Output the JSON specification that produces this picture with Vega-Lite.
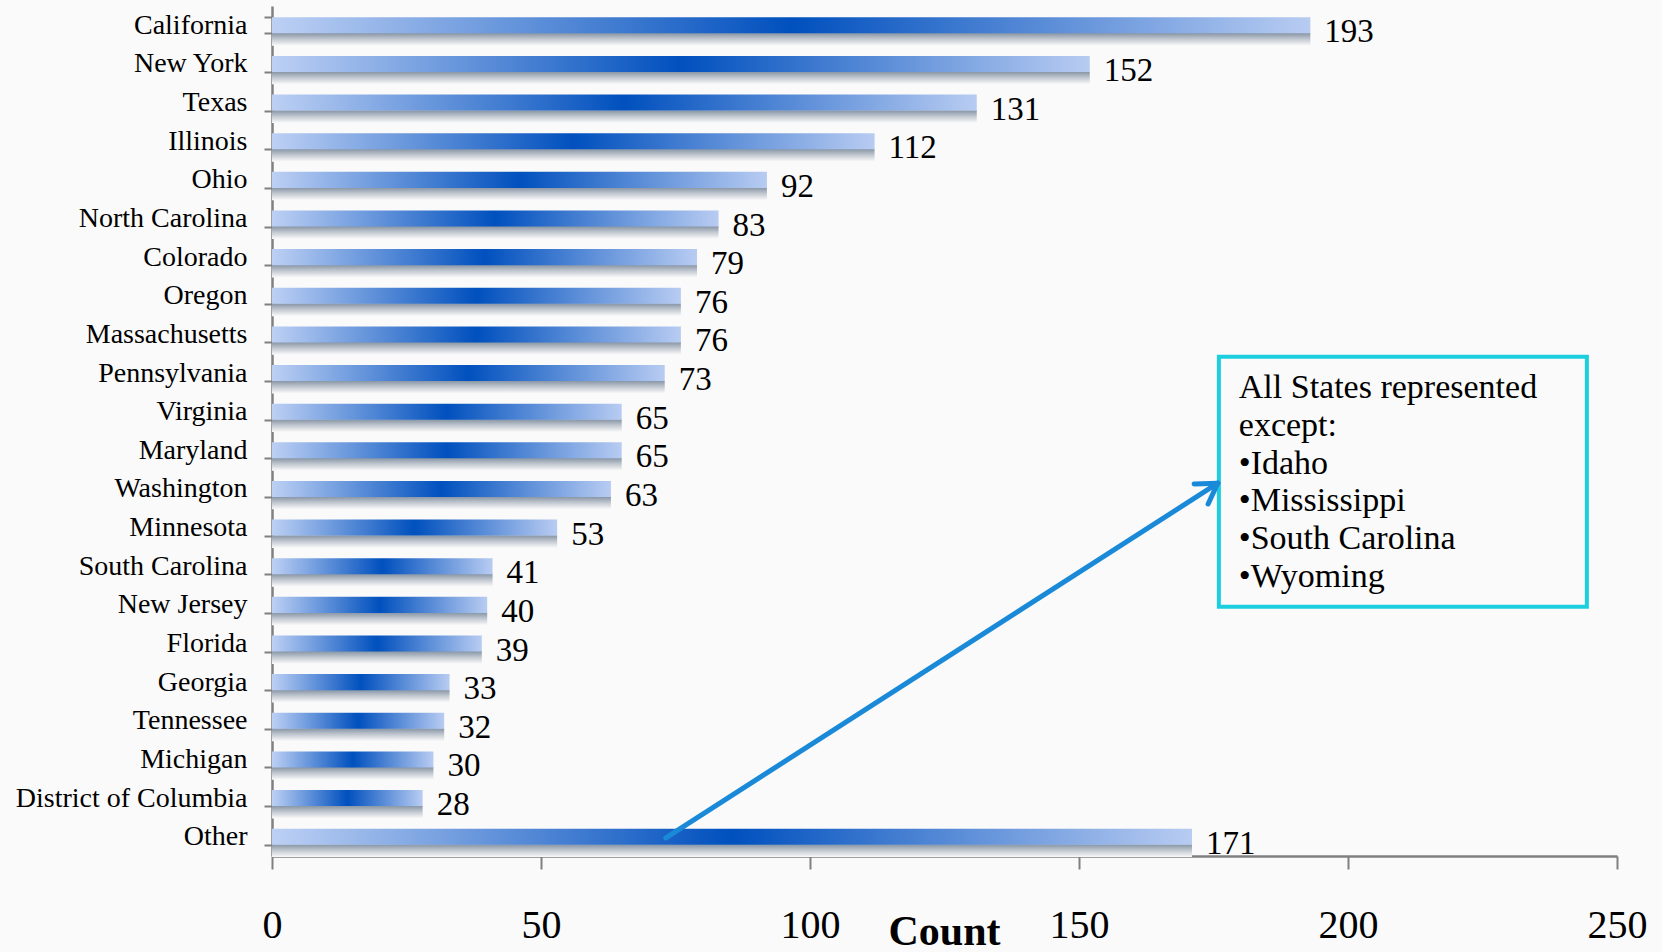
{
  "$schema": "https://vega.github.io/schema/vega-lite/v6.json",
  "width": 1345,
  "height": 850,
  "autosize": {"type": "none"},
  "padding": {"left": 272, "top": 6, "right": 45, "bottom": 96},
  "background": "#fafafa",
  "config": {"view": {"stroke": null}, "font": "Liberation Serif"},
  "data": {
    "values": [
      {"State": "California", "Count": 193},
      {"State": "New York", "Count": 152},
      {"State": "Texas", "Count": 131},
      {"State": "Illinois", "Count": 112},
      {"State": "Ohio", "Count": 92},
      {"State": "North Carolina", "Count": 83},
      {"State": "Colorado", "Count": 79},
      {"State": "Oregon", "Count": 76},
      {"State": "Massachusetts", "Count": 76},
      {"State": "Pennsylvania", "Count": 73},
      {"State": "Virginia", "Count": 65},
      {"State": "Maryland", "Count": 65},
      {"State": "Washington", "Count": 63},
      {"State": "Minnesota", "Count": 53},
      {"State": "South Carolina", "Count": 41},
      {"State": "New Jersey", "Count": 40},
      {"State": "Florida", "Count": 39},
      {"State": "Georgia", "Count": 33},
      {"State": "Tennessee", "Count": 32},
      {"State": "Michigan", "Count": 30},
      {"State": "District of Columbia", "Count": 28},
      {"State": "Other", "Count": 171}
    ]
  },
  "layer": [
    {
      "encoding": {
        "y": {
          "field": "State",
          "type": "nominal",
          "sort": null,
          "scale": {"paddingInner": 0.585, "paddingOuter": 0.2925},
          "axis": {
            "title": null,
            "tickBand": "extent",
            "tickSize": 8,
            "tickColor": "#808080",
            "tickWidth": 2,
            "domainColor": "#808080",
            "domainWidth": 2.5,
            "labelFontSize": 28,
            "labelColor": "#000000",
            "labelPadding": 17,
            "labelLimit": 400
          }
        },
        "x": {
          "field": "Count",
          "type": "quantitative",
          "scale": {"domain": [0, 250], "nice": false},
          "axis": {
            "values": [0, 50, 100, 150, 200, 250],
            "grid": false,
            "tickSize": 13,
            "tickColor": "#808080",
            "tickWidth": 2,
            "domainColor": "#808080",
            "domainWidth": 2.5,
            "labelFontSize": 40,
            "labelColor": "#000000",
            "labelBaseline": "middle",
            "labelPadding": 56,
            "labelFlush": false,
            "labelOverlap": false,
            "title": "Count",
            "titleFontSize": 42,
            "titleFontWeight": "bold",
            "titleColor": "#000000",
            "titleX": 672,
            "titleY": 88,
            "titleAlign": "center",
            "titleBaseline": "alphabetic"
          }
        }
      },
      "layer": [
        {
          "mark": {
            "type": "bar",
            "height": {"band": 0.8},
            "yOffset": 14,
            "fill": {
              "gradient": "linear",
              "x1": 0, "y1": 0, "x2": 0, "y2": 1,
              "stops": [
                {"offset": 0, "color": "#8593a3"},
                {"offset": 0.5, "color": "#c4cad2"},
                {"offset": 1, "color": "#fafafa"}
              ]
            }
          }
        },
        {
          "mark": {
            "type": "bar",
            "fill": {
              "gradient": "linear",
              "x1": 0, "y1": 0, "x2": 1, "y2": 0,
              "stops": [
                {"offset": 0, "color": "#bdd0f4"},
                {"offset": 0.5, "color": "#0050be"},
                {"offset": 1, "color": "#b8ccf2"}
              ]
            }
          }
        },
        {
          "mark": {
            "type": "text",
            "align": "left",
            "baseline": "alphabetic",
            "dx": 14,
            "dy": 17,
            "fontSize": 33,
            "color": "#000000"
          },
          "encoding": {"text": {"field": "Count", "type": "quantitative"}}
        }
      ]
    },
    {
      "data": {"values": [{}]},
      "layer": [
        {
          "mark": {"type": "rect", "fill": null, "fillOpacity": 0, "stroke": "#1ccfdf", "strokeWidth": 4},
          "encoding": {
            "x": {"datum": 176.0, "type": "quantitative"},
            "x2": {"datum": 244.4},
            "y": {"datum": 9.08, "type": "quantitative", "scale": {"domain": [0, 22], "nice": false, "zero": false, "reverse": true}, "axis": null},
            "y2": {"datum": 15.55}
          }
        },
        {
          "mark": {"type": "rule", "color": "#1a8ad8", "strokeWidth": 5, "strokeCap": "round"},
          "encoding": {
            "x": {"datum": 73.2, "type": "quantitative"},
            "x2": {"datum": 175.8},
            "y": {"datum": 21.53, "type": "quantitative", "scale": {"domain": [0, 22], "nice": false, "zero": false, "reverse": true}, "axis": null},
            "y2": {"datum": 12.35}
          }
        },
        {
          "mark": {"type": "rule", "color": "#1a8ad8", "strokeWidth": 5, "strokeCap": "round"},
          "encoding": {
            "x": {"datum": 171.4, "type": "quantitative"},
            "x2": {"datum": 175.8},
            "y": {"datum": 12.37, "type": "quantitative", "scale": {"domain": [0, 22], "nice": false, "zero": false, "reverse": true}, "axis": null},
            "y2": {"datum": 12.35}
          }
        },
        {
          "mark": {"type": "rule", "color": "#1a8ad8", "strokeWidth": 5, "strokeCap": "round"},
          "encoding": {
            "x": {"datum": 174.0, "type": "quantitative"},
            "x2": {"datum": 175.8},
            "y": {"datum": 12.89, "type": "quantitative", "scale": {"domain": [0, 22], "nice": false, "zero": false, "reverse": true}, "axis": null},
            "y2": {"datum": 12.35}
          }
        },
        {
          "mark": {
            "type": "text",
            "align": "left",
            "baseline": "alphabetic",
            "fontSize": 34,
            "lineHeight": 37.7,
            "color": "#000000",
            "text": ["All States represented", "except:", "•Idaho", "•Mississippi", "•South Carolina", "•Wyoming"]
          },
          "encoding": {
            "x": {"datum": 179.7, "type": "quantitative"},
            "y": {"datum": 10.15, "type": "quantitative", "scale": {"domain": [0, 22], "nice": false, "zero": false, "reverse": true}, "axis": null}
          }
        }
      ]
    }
  ],
  "resolve": {"scale": {"y": "independent"}, "axis": {"y": "independent"}}
}
